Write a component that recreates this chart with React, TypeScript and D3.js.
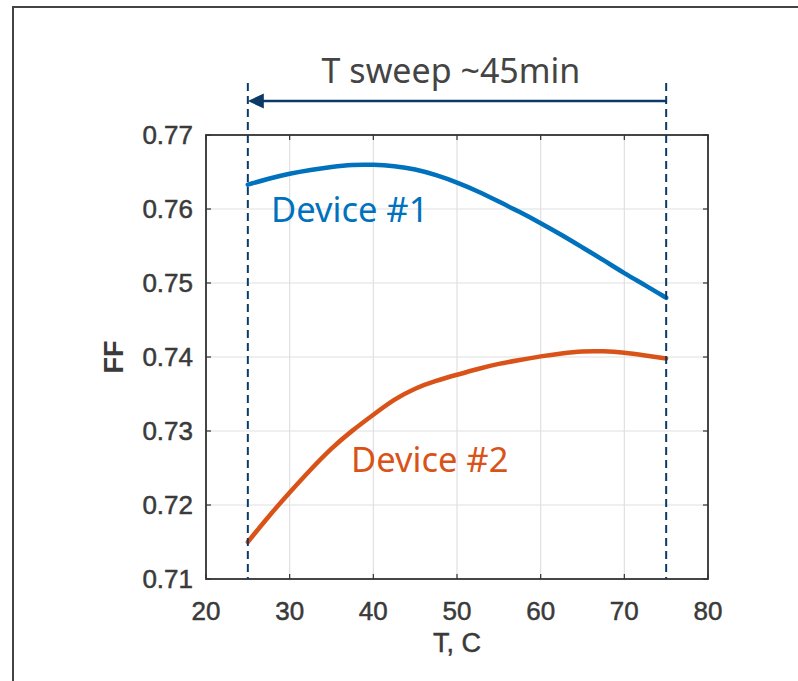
import React from 'react';
import * as d3 from 'd3';

// temperature sweep, C
const temps = [25, 27.5, 30, 32.5, 35, 37.5, 40, 42.5, 45, 47.5, 50, 52.5, 55, 57.5, 60, 62.5, 65, 67.5, 70, 72.5, 75];
const device1 = [0.7633, 0.7641, 0.7648, 0.7653, 0.7657, 0.766, 0.766, 0.7658, 0.7654, 0.7646, 0.7636, 0.7624, 0.761, 0.7596, 0.7581, 0.7565, 0.7548, 0.7531, 0.7513, 0.7497, 0.748];
const device2 = [0.715, 0.7185, 0.7217, 0.7248, 0.7277, 0.7301, 0.7322, 0.7343, 0.7358, 0.7368, 0.7376, 0.7384, 0.7391, 0.7396, 0.7401, 0.7405, 0.7408, 0.7408, 0.7406, 0.7402, 0.7398];
const xTicks = [20, 30, 40, 50, 60, 70, 80];
const yTicks = [0.71, 0.72, 0.73, 0.74, 0.75, 0.76, 0.77];
const sweepRange = [25, 75];

const W = 798;
const H = 681;
const left = 206, right = 708, top = 135, bottom = 579;

export default function App() {
  const x = d3.scaleLinear().domain([20, 80]).range([left, right]);
  const y = d3.scaleLinear().domain([0.71, 0.77]).range([bottom, top]);

  const line = d3.line<number>()
    .x((_, i) => x(temps[i]))
    .y(d => y(d))
    .curve(d3.curveBasis);

  const axisFont = '"Liberation Sans", Arial, sans-serif';
  const noteFont = '"Noto Sans", "Open Sans", sans-serif';
  const navy = '#0b3a67';
  const tickLen = 5;
  const ink = '#3a3a3a';

  return (
    <svg width={W} height={H} style={{ position: 'absolute', left: 0, top: 0 }}>
      <rect x={0} y={0} width={W} height={H} fill="#fff" />
      {/* outer frame */}
      <path d={`M13,${H} L13,7 L${W},7`} fill="none" stroke="#444" strokeWidth={2} />

      {/* grid */}
      {xTicks.map(t => (
        <line key={'gx' + t} x1={x(t)} x2={x(t)} y1={top} y2={bottom} stroke="#e0e0e0" strokeWidth={1.2} />
      ))}
      {yTicks.map(t => (
        <line key={'gy' + t} x1={left} x2={right} y1={y(t)} y2={y(t)} stroke="#e0e0e0" strokeWidth={1.2} />
      ))}

      {/* ticks, inward on all sides */}
      {xTicks.map(t => (
        <g key={'tx' + t} stroke="#333" strokeWidth={1.2}>
          <line x1={x(t)} x2={x(t)} y1={bottom} y2={bottom - tickLen} />
          <line x1={x(t)} x2={x(t)} y1={top} y2={top + tickLen} />
        </g>
      ))}
      {yTicks.map(t => (
        <g key={'ty' + t} stroke="#333" strokeWidth={1.2}>
          <line x1={left} x2={left + tickLen} y1={y(t)} y2={y(t)} />
          <line x1={right} x2={right - tickLen} y1={y(t)} y2={y(t)} />
        </g>
      ))}

      <rect x={left} y={top} width={right - left} height={bottom - top} fill="none" stroke="#333" strokeWidth={1.8} />

      {/* tick labels */}
      {xTicks.map(t => (
        <text key={'lx' + t} x={x(t)} y={620} textAnchor="middle" fontFamily={axisFont} fontSize={26}
          fill={ink} stroke={ink} strokeWidth={0.5}>
          {t}
        </text>
      ))}
      {yTicks.map(t => (
        <text key={'ly' + t} x={193} y={y(t) + 9} textAnchor="end" fontFamily={axisFont} fontSize={26}
          fill={ink} stroke={ink} strokeWidth={0.5}>
          {d3.format('.2f')(t)}
        </text>
      ))}

      <text x={(left + right) / 2} y={652} textAnchor="middle" fontFamily={axisFont} fontSize={27}
        fill={ink} stroke={ink} strokeWidth={0.5}>
        T, C
      </text>
      <text transform={`translate(123,${(top + bottom) / 2}) rotate(-90)`} textAnchor="middle" fontFamily={axisFont}
        fontSize={27} fontWeight="bold" fill={ink}>
        FF
      </text>

      {/* curves */}
      <path d={line(device1) || ''} fill="none" stroke="#0072BD" strokeWidth={4.5} strokeLinecap="round" />
      <path d={line(device2) || ''} fill="none" stroke="#D95319" strokeWidth={4.5} strokeLinecap="round" />

      <text x={271} y={222} fontFamily={noteFont} fontSize={34.5} fill="#0072BD">Device #1</text>
      <text x={351} y={472} fontFamily={noteFont} fontSize={34.5} fill="#D95319">Device #2</text>

      {/* sweep markers */}
      {sweepRange.map(t => (
        <line key={'sw' + t} x1={x(t)} x2={x(t)} y1={83} y2={bottom} stroke={navy} strokeWidth={2} strokeDasharray="8,5" />
      ))}
      <line x1={x(sweepRange[1])} x2={x(sweepRange[0]) + 14} y1={101} y2={101} stroke={navy} strokeWidth={2.6} />
      <path d={`M${x(sweepRange[0])},101 L${x(sweepRange[0]) + 16},93.5 L${x(sweepRange[0]) + 16},108.5 Z`} fill={navy} />
      <text x={451} y={83} textAnchor="middle" fontFamily={noteFont} fontSize={34} fill="#444">
        T sweep ~45min
      </text>
    </svg>
  );
}
